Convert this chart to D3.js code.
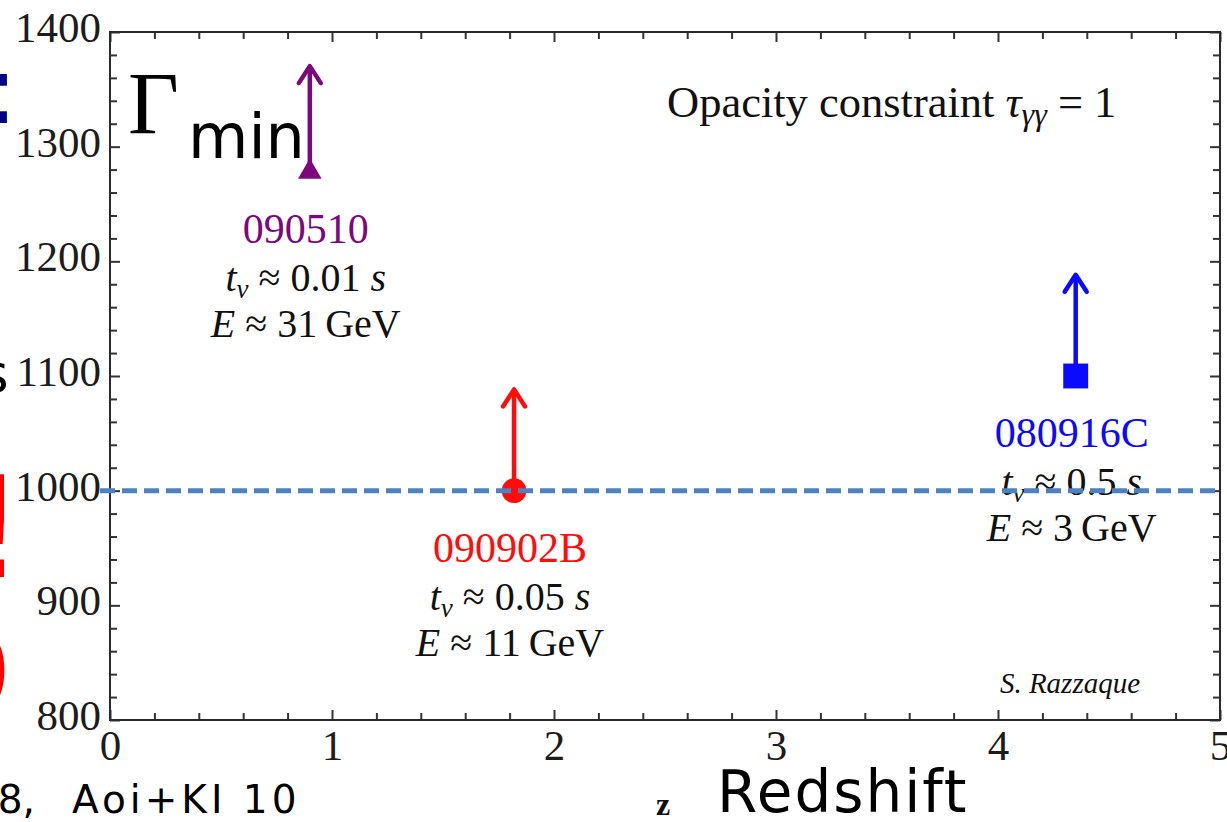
<!DOCTYPE html>
<html lang="en">
  <script src="https://d3js.org/d3.v7.min.js"></script>
  <style>
    body {
      margin: 0;
      background: #fff;
    }
    svg {
      display: block;
    }
    .serif {
      font-family: "Liberation Serif", "DejaVu Serif", serif;
    }
    .sans {
      font-family: "DejaVu Sans", sans-serif;
    }
  </style>
  <body>
    <svg width="1227" height="822"></svg>
    <script>
      // bursts: name, redshift, lower limit on Gamma, arrow tip
      const grbNames = ["090510", "090902B", "080916C"];
      const redshifts = [0.9, 1.82, 4.35];
      const gammaMin = [1278, 1000, 1100];
      const arrowTips = [1372, 1090, 1190];
      const tvValues = ["0.01", "0.05", "0.5"];
      const energies = ["31", "11", "3"];
      const markerTypes = ["triangle", "circle", "square"];
      const grbColors = ["#7d087d", "#ff0d0d", "#0a0aff"];

      const xTickValues = [0, 1, 2, 3, 4, 5];
      const yTickValues = [800, 900, 1000, 1100, 1200, 1300, 1400];
      const threshold = 1000;

      const svg = d3.select("svg");
      const x = d3.scaleLinear().domain([0, 5]).range([110, 1220]);
      const y = d3.scaleLinear().domain([800, 1400]).range([720, 32]);

      const xMinor = d3.range(0, 5.001, 0.2).filter((v) => Math.abs(v - Math.round(v)) > 1e-6);
      const yMinor = d3.range(800, 1400, 20).filter((v) => v % 100 !== 0);

      function tickStyle(g) {
        g.select(".domain").remove();
        g.selectAll("line").attr("stroke", "#333").attr("stroke-width", 2);
        g.selectAll("text")
          .attr("class", "serif")
          .attr("font-size", 43)
          .attr("fill", "#1c1c1c");
      }

      // bottom axis, ticks point inward
      svg.append("g")
        .attr("transform", "translate(0,720)")
        .call(d3.axisBottom(x).tickValues(xTickValues).tickSize(-10).tickPadding(9).tickFormat(d3.format("d")))
        .call(tickStyle);
      svg.append("g")
        .attr("transform", "translate(0,720)")
        .call(d3.axisBottom(x).tickValues(xMinor).tickSize(-7).tickFormat(""))
        .call(tickStyle);
      // top axis
      svg.append("g")
        .attr("transform", "translate(0,32)")
        .call(d3.axisTop(x).tickValues(xTickValues).tickSize(-10).tickFormat(""))
        .call(tickStyle);
      svg.append("g")
        .attr("transform", "translate(0,32)")
        .call(d3.axisTop(x).tickValues(xMinor).tickSize(-7).tickFormat(""))
        .call(tickStyle);
      // left axis
      svg.append("g")
        .attr("transform", "translate(110,0)")
        .call(d3.axisLeft(y).tickValues(yTickValues).tickSize(-10).tickPadding(9).tickFormat(d3.format("d")))
        .call(tickStyle)
        .call((g) => g.selectAll("text").attr("dy", "0.22em"));
      svg.append("g")
        .attr("transform", "translate(110,0)")
        .call(d3.axisLeft(y).tickValues(yMinor).tickSize(-7).tickFormat(""))
        .call(tickStyle);
      // right axis
      svg.append("g")
        .attr("transform", "translate(1220,0)")
        .call(d3.axisRight(y).tickValues(yTickValues).tickSize(-10).tickFormat(""))
        .call(tickStyle);
      svg.append("g")
        .attr("transform", "translate(1220,0)")
        .call(d3.axisRight(y).tickValues(yMinor).tickSize(-7).tickFormat(""))
        .call(tickStyle);

      // frame
      svg.append("rect")
        .attr("x", x.range()[0])
        .attr("y", y.range()[1])
        .attr("width", x.range()[1] - x.range()[0])
        .attr("height", y.range()[0] - y.range()[1])
        .attr("fill", "none")
        .attr("stroke", "#2a2a2a")
        .attr("stroke-width", 2);

      const symbolFor = {
        triangle: d3.symbol().type(d3.symbolTriangle).size(240),
        circle: d3.symbol().type(d3.symbolCircle).size(480),
        square: d3.symbol().type(d3.symbolSquare).size(620),
      };

      const data = grbNames.map((name, i) => ({
        name: name,
        z: redshifts[i],
        g: gammaMin[i],
        tip: arrowTips[i],
        tv: tvValues[i],
        e: energies[i],
        marker: markerTypes[i],
        color: grbColors[i],
      }));

      const grb = svg.append("g")
        .selectAll("g")
        .data(data)
        .enter()
        .append("g");

      // arrow shaft
      grb.append("line")
        .attr("x1", (d) => x(d.z))
        .attr("x2", (d) => x(d.z))
        .attr("y1", (d) => y(d.g))
        .attr("y2", (d) => y(d.tip) + 2)
        .attr("stroke", (d) => d.color)
        .attr("stroke-width", 4.5);
      // arrow head
      grb.append("path")
        .attr("d", (d) => {
          const cx = x(d.z), ty = y(d.tip);
          return `M${cx - 11},${ty + 19}L${cx},${ty + 2}L${cx + 11},${ty + 19}`;
        })
        .attr("fill", "none")
        .attr("stroke", (d) => d.color)
        .attr("stroke-width", 4.5)
        .attr("stroke-linecap", "round")
        .attr("stroke-linejoin", "round");
      // marker
      grb.append("path")
        .attr("transform", (d) => `translate(${x(d.z)},${y(d.g)})`)
        .attr("d", (d) => symbolFor[d.marker]())
        .attr("fill", (d) => d.color);

      // labels under each burst
      const lab = grb.append("text")
        .attr("class", "serif")
        .attr("text-anchor", "middle")
        .attr("fill", "#111");
      lab.append("tspan")
        .attr("x", (d) => x(d.z) - 4)
        .attr("y", (d) => y(d.g) + 71)
        .attr("font-size", 42)
        .attr("fill", (d) => d.color)
        .text((d) => d.name);
      const tvLine = lab.append("tspan")
        .attr("x", (d) => x(d.z) - 4)
        .attr("y", (d) => y(d.g) + 119)
        .attr("font-size", 40);
      tvLine.append("tspan").attr("font-style", "italic").text("t");
      tvLine.append("tspan").attr("font-style", "italic").attr("font-size", 27).attr("dy", 7).text("v");
      tvLine.append("tspan").attr("dy", -7).text((d) => ` \u2248 ${d.tv} `);
      tvLine.append("tspan").attr("font-style", "italic").text("s");
      const eLine = lab.append("tspan")
        .attr("x", (d) => x(d.z) - 4)
        .attr("y", (d) => y(d.g) + 165)
        .attr("font-size", 40);
      eLine.append("tspan").attr("font-style", "italic").text("E");
      eLine.append("tspan").text((d) => ` \u2248 ${d.e}\u2009GeV`);

      // threshold line, drawn over the marks
      svg.append("line")
        .attr("x1", 100)
        .attr("x2", x.range()[1])
        .attr("y1", y(threshold))
        .attr("y2", y(threshold))
        .attr("stroke", "#4f81bd")
        .attr("stroke-width", 5)
        .attr("stroke-dasharray", "15,7");

      // title inside the frame
      const op = svg.append("text")
        .attr("class", "serif")
        .attr("x", 667)
        .attr("y", 117)
        .attr("font-size", 44.5)
        .attr("fill", "#111");
      op.append("tspan").text("Opacity constraint ");
      op.append("tspan").attr("font-style", "italic").text("\u03c4");
      op.append("tspan").attr("font-style", "italic").attr("font-size", 32).attr("dy", 8).text("\u03b3\u03b3");
      op.append("tspan").attr("dy", -8).text(" = 1");

      svg.append("text")
        .attr("class", "serif")
        .attr("x", 1070)
        .attr("y", 693)
        .attr("text-anchor", "middle")
        .attr("font-size", 29)
        .attr("font-style", "italic")
        .attr("fill", "#111")
        .text("S. Razzaque");

      // axis letter and slide overlay text
      svg.append("text")
        .attr("class", "serif")
        .attr("x", 663)
        .attr("y", 815)
        .attr("text-anchor", "middle")
        .attr("font-size", 32)
        .attr("font-weight", "bold")
        .attr("fill", "#111")
        .text("z");
      svg.append("text")
        .attr("class", "sans")
        .attr("x", 717)
        .attr("y", 812)
        .attr("font-size", 58)
        .attr("letter-spacing", 2)
        .attr("fill", "#000")
        .text("Redshift");

      svg.append("text")
        .attr("class", "serif")
        .attr("x", 128)
        .attr("y", 133)
        .attr("font-size", 88)
        .attr("fill", "#000")
        .text("\u0393");
      svg.append("text")
        .attr("class", "sans")
        .attr("x", 188)
        .attr("y", 158)
        .attr("font-size", 62)
        .attr("fill", "#000")
        .text("min");

      // fragments of slide text cut off at the left edge
      svg.append("text")
        .attr("class", "sans")
        .attr("x", 35)
        .attr("y", 813)
        .attr("text-anchor", "end")
        .attr("font-size", 39)
        .attr("fill", "#000")
        .text("08,");
      svg.append("text")
        .attr("class", "sans")
        .attr("x", 72)
        .attr("y", 813)
        .attr("font-size", 39)
        .attr("letter-spacing", 4)
        .attr("fill", "#000")
        .text("Aoi+KI 10");
      svg.append("text")
        .attr("class", "sans")
        .attr("x", -14)
        .attr("y", 123)
        .attr("font-size", 95)
        .attr("fill", "#000088")
        .text(":");
      svg.append("text")
        .attr("class", "sans")
        .attr("x", -19)
        .attr("y", 392)
        .attr("font-size", 53)
        .attr("fill", "#000")
        .text("s");
      svg.append("text")
        .attr("class", "sans")
        .attr("x", -31)
        .attr("y", 577)
        .attr("font-size", 140)
        .attr("fill", "#ff0000")
        .text("!");
      svg.append("text")
        .attr("class", "sans")
        .attr("x", -98)
        .attr("y", 722)
        .attr("font-size", 140)
        .attr("fill", "#ff0000")
        .text("O");
    </script>
  </body>
</html>
